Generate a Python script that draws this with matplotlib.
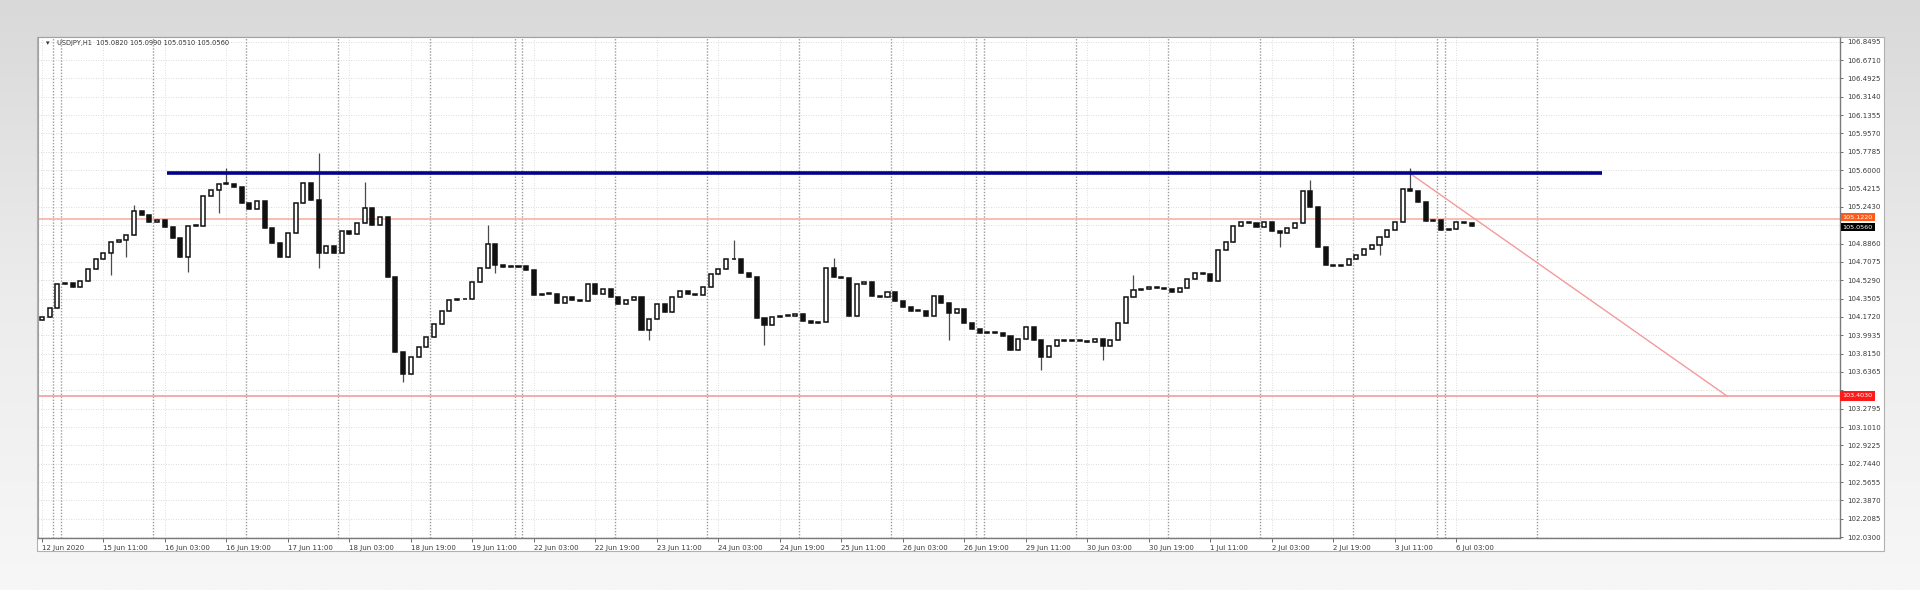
import numpy as np
import matplotlib
matplotlib.use("Agg")
import matplotlib.pyplot as plt
from matplotlib.patches import Rectangle
from matplotlib.colors import LinearSegmentedColormap
from matplotlib.transforms import blended_transform_factory

# ---------------- data ----------------
chart_title = "USDJPY,H1  105.0820 105.0990 105.0510 105.0560"

first_open = 104.142
closes = [
    104.174, 104.255, 104.492, 104.505, 104.466, 104.524, 104.635, 104.735, 104.790, 104.904,
    104.920, 104.969, 105.202, 105.160, 105.092, 105.115, 105.043, 104.936, 104.758, 105.056,
    105.056, 105.348, 105.407, 105.465, 105.462, 105.439, 105.277, 105.222, 105.300, 105.034,
    104.888, 104.758, 104.985, 105.283, 105.471, 105.309, 104.797, 104.862, 104.794, 105.008,
    104.975, 105.082, 105.228, 105.066, 105.144, 104.563, 103.830, 103.613, 103.785, 103.876,
    103.973, 104.103, 104.226, 104.336, 104.346, 104.343, 104.511, 104.644, 104.881, 104.677,
    104.661, 104.661,
    104.667, 104.628, 104.385, 104.395, 104.395, 104.307, 104.369, 104.336, 104.330, 104.492,
    104.395, 104.440, 104.366, 104.294, 104.336, 104.362, 104.045, 104.152, 104.297, 104.216,
    104.369, 104.427, 104.395, 104.382, 104.466, 104.586, 104.635, 104.739, 104.732, 104.596,
    104.557, 104.158, 104.093, 104.168, 104.184, 104.181, 104.200, 104.135, 104.113, 104.119,
    104.644, 104.563, 104.547, 104.181, 104.489, 104.508, 104.375, 104.362, 104.414, 104.330,
    104.272, 104.229, 104.233, 104.178, 104.379, 104.304, 104.210, 104.249,
    104.116, 104.057, 104.012, 104.025, 104.018, 103.989, 103.850, 103.957, 104.070, 103.947,
    103.785, 103.889, 103.947, 103.937, 103.937, 103.941, 103.931, 103.957, 103.886, 103.947,
    104.109, 104.369, 104.430, 104.440, 104.466, 104.450, 104.443, 104.411, 104.450, 104.541,
    104.596, 104.589, 104.518, 104.823, 104.904, 105.053, 105.095, 105.086, 105.050, 105.099,
    105.011, 104.985, 105.034, 105.082, 105.400, 105.244, 104.855, 104.677, 104.667, 104.674,
    104.732, 104.774, 104.829, 104.872, 104.949, 105.017, 105.099, 105.420, 105.400, 105.293,
    105.105, 105.115, 105.017, 105.030, 105.099, 105.082, 105.056,
]

wick_highs = {12: 105.261, 24: 105.617, 36: 105.763, 42: 105.488, 58: 105.066,
              90: 104.920, 103: 104.742, 142: 104.580, 165: 105.504, 178: 105.617}
wick_lows = {9: 104.580, 11: 104.758, 19: 104.612, 23: 105.180, 36: 104.644,
             47: 103.542, 59: 104.596, 79: 103.947, 94: 103.899, 118: 103.947,
             130: 103.655, 138: 103.753, 161: 104.855, 174: 104.774}

resistance_level = 105.569
resistance_span = (33.6, 406.8)          # bar positions
upper_level = 105.122
support_level = 103.403
trend_start = (356.9, 105.569)
trend_end = (439.4, 103.403)

y_tick_labels = ["106.8495", "106.6710", "106.4925", "106.3140", "106.1355", "105.9570",
                 "105.7785", "105.6000", "105.4215", "105.2430", "105.0645", "104.8860",
                 "104.7075", "104.5290", "104.3505", "104.1720", "103.9935", "103.8150",
                 "103.6365", "103.4580", "103.2795", "103.1010", "102.9225", "102.7440",
                 "102.5655", "102.3870", "102.2085", "102.0300"]
hidden_y_labels = {10, 19}

x_tick_labels = ["12 Jun 2020", "15 Jun 11:00", "16 Jun 03:00", "16 Jun 19:00", "17 Jun 11:00",
                 "18 Jun 03:00", "18 Jun 19:00", "19 Jun 11:00", "22 Jun 03:00", "22 Jun 19:00",
                 "23 Jun 11:00", "24 Jun 03:00", "24 Jun 19:00", "25 Jun 11:00", "26 Jun 03:00",
                 "26 Jun 19:00", "29 Jun 11:00", "30 Jun 03:00", "30 Jun 19:00", "1 Jul 11:00",
                 "2 Jul 03:00", "2 Jul 19:00", "3 Jul 11:00", "6 Jul 03:00"]
day_separators = [4, 6, 30, 54, 78, 102, 124, 126, 150, 174, 198, 222, 244, 246,
                  270, 294, 318, 342, 364, 366, 390]

# ---------------- figure ----------------
W, H = 1920, 590
fig = plt.figure(figsize=(W / 100, H / 100), dpi=100)

bg = fig.add_axes([0, 0, 1, 1], zorder=-10)
cmap = LinearSegmentedColormap.from_list("bg", ["#d9d9d9", "#ececec", "#f7f7f7"])
bg.imshow(np.linspace(0, 1, 256).reshape(-1, 1), cmap=cmap, aspect="auto",
          extent=[0, 1, 0, 1])
bg.axis("off")

panel = Rectangle((37 / W, 1 - 551 / H), (1884 - 37) / W, (551 - 37) / H,
                  transform=fig.transFigure, facecolor="white", edgecolor="#b0b0b0",
                  linewidth=0.8, zorder=-5)
fig.patches.append(panel)

ax = fig.add_axes([38 / W, 1 - 538 / H, (1840 - 38) / W, (538 - 37) / H])
ax.set_facecolor("white")
ax.set_xlim(0, 468.8)
ax.set_ylim(102.0215, 106.895)

# grid
y_vals = [float(s) for s in y_tick_labels]
x_ticks = [1 + 16 * k for k in range(len(x_tick_labels))]
for yv in y_vals:
    ax.axhline(yv, color="#cfcfcf", lw=0.6, ls=(0, (1, 2)), zorder=0)
for xv in x_ticks:
    ax.axvline(xv, color="#d4d4d4", lw=0.6, ls=(0, (1, 2)), zorder=0)
for xv in day_separators:
    ax.axvline(xv, color="#9c9c9c", lw=1.0, ls=(0, (1, 1.2)), zorder=0.5)

# candles
opens = [first_open] + closes[:-1]
xs = np.arange(len(closes)) * 2 + 1
for i, (x, o, c) in enumerate(zip(xs, opens, closes)):
    hi = wick_highs.get(i, max(o, c))
    lo = wick_lows.get(i, min(o, c))
    ax.vlines(x, lo, hi, color="#4a4a4a", lw=0.9, zorder=3)
    bottom = min(o, c)
    height = max(abs(c - o), 0.008)
    face = "white" if c >= o else "#111111"
    ax.bar(x, height, bottom=bottom, width=1.05, facecolor=face,
           edgecolor="#111111", linewidth=1.1, zorder=4)

# drawn objects
ax.axhline(upper_level, color="#f9b8a8", lw=1.3, zorder=2)
ax.axhline(support_level, color="#f4a4a4", lw=1.3, zorder=2)
ax.plot(resistance_span, [resistance_level, resistance_level], color="#00008b",
        lw=2.6, solid_capstyle="butt", zorder=5)
ax.plot([trend_start[0], trend_end[0]], [trend_start[1], trend_end[1]],
        color="#f49a9a", lw=1.0, zorder=2)

# axes styling
for side in ["left", "top"]:
    ax.spines[side].set_color("#a0a0a0")
    ax.spines[side].set_linewidth(0.8)
for side in ["right", "bottom"]:
    ax.spines[side].set_color("#7a7a7a")
    ax.spines[side].set_linewidth(1.0)

ax.yaxis.tick_right()
ax.set_yticks(y_vals)
ax.set_yticklabels(["" if i in hidden_y_labels else s for i, s in enumerate(y_tick_labels)])
ax.tick_params(axis="y", direction="out", length=2.5, width=0.6, colors="#555555",
               labelsize=5, pad=3, labelcolor="#3a3a3a")

ax.set_xticks(x_ticks)
ax.set_xticklabels(x_tick_labels)
ax.tick_params(axis="x", direction="out", length=3, width=0.6, colors="#555555",
               labelsize=5, pad=2, labelcolor="#3a3a3a")
for lab in ax.get_xticklabels():
    lab.set_horizontalalignment("left")

# price labels on the axis
tr = blended_transform_factory(ax.transAxes, ax.transData)
ax.text(1.0015, upper_level + 0.02, "105.1220", transform=tr, fontsize=4.6, color="white",
        va="center", ha="left", clip_on=False, zorder=6,
        bbox=dict(boxstyle="square,pad=0.25", facecolor="#ff5a1a", edgecolor="none"))
ax.text(1.0015, closes[-1] - 0.01, "%.4f" % closes[-1], transform=tr, fontsize=4.6,
        color="white", va="center", ha="left", clip_on=False, zorder=7,
        bbox=dict(boxstyle="square,pad=0.3", facecolor="black", edgecolor="none"))
ax.text(1.0015, support_level, "%.4f" % support_level, transform=tr, fontsize=4.6,
        color="white", va="center", ha="left", clip_on=False, zorder=6,
        bbox=dict(boxstyle="square,pad=0.35", facecolor="#ff1a1a", edgecolor="none"))

# title
ax.text(0.0045, 0.988, "\u25BE", transform=ax.transAxes, fontsize=5, color="#333333",
        va="center", ha="left")
ax.text(0.0105, 0.988, chart_title, transform=ax.transAxes, fontsize=4.8,
        color="#333333", va="center", ha="left")

fig.savefig("out.png", dpi=100)
